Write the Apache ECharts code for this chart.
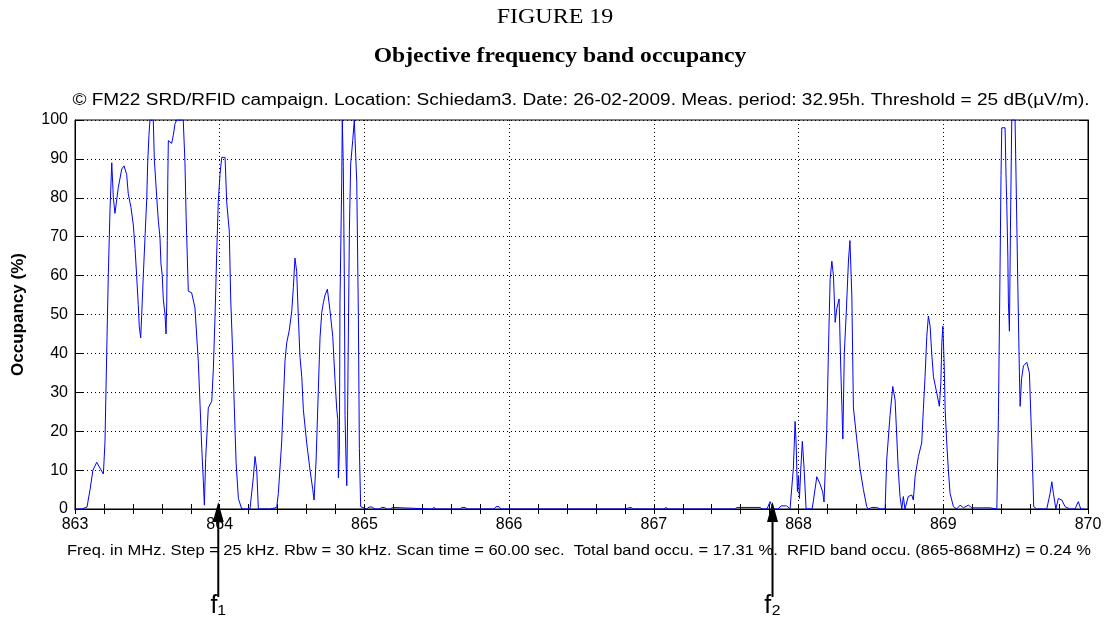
<!DOCTYPE html>
<html>
<head>
<meta charset="utf-8">
<script src="https://cdn.jsdelivr.net/npm/echarts@6/dist/echarts.min.js"></script>
<style>html,body{margin:0;padding:0;background:#fff}#c{width:1105px;height:617px}</style>
</head>
<body>
<div id="c"></div>
<script>
// ---- data ----
const figureLabel = 'FIGURE 19';
const chartTitle = 'Objective frequency band occupancy';
const subTitle = '\u00a9 FM22 SRD/RFID campaign. Location: Schiedam3. Date: 26-02-2009. Meas. period: 32.95h. Threshold = 25 dB(\u00b5V/m).';
const footNote = 'Freq. in MHz. Step = 25 kHz. Rbw = 30 kHz. Scan time = 60.00 sec.  Total band occu. = 17.31 %.  RFID band occu. (865-868MHz) = 0.24 %';
const yAxisName = 'Occupancy (%)';
const xRange = [863, 870];
const yRange = [0, 100];
const arrowFreqs = [863.99, 867.82];
const arrowLabels = ['f\u2081', 'f\u2082'];

const freqs = [
863.000,863.048,863.059,863.083,863.104,863.124,863.150,863.173,863.196,863.207,
863.219,863.230,863.242,863.254,863.265,863.276,863.299,863.323,863.339,863.357,
863.368,863.387,863.403,863.415,863.426,863.437,863.444,863.454,863.461,863.472,
863.484,863.496,863.502,863.511,863.518,863.541,863.548,863.565,863.576,863.587,
863.594,863.603,863.610,863.622,863.629,863.634,863.638,863.641,863.645,863.668,
863.679,863.691,863.703,863.748,863.760,863.768,863.783,863.806,863.829,863.852,
863.864,863.876,863.887,863.894,863.903,863.914,863.921,863.945,863.956,863.968,
863.979,863.990,864.002,864.014,864.037,864.048,864.066,864.076,864.090,864.101,
864.113,864.129,864.152,864.209,864.232,864.244,864.256,864.267,864.348,864.355,
864.394,864.405,864.428,864.440,864.451,864.463,864.481,864.498,864.509,864.520,
864.532,864.543,864.555,864.567,864.578,864.601,864.624,864.643,864.652,864.666,
864.681,864.693,864.705,864.716,864.728,864.744,864.762,864.781,864.797,864.809,
864.816,864.820,864.827,864.831,864.843,864.847,864.854,864.861,864.866,864.873,
864.878,864.882,864.889,864.896,864.905,864.919,864.930,864.940,864.947,864.958,
864.965,864.974,865.016,865.032,865.053,865.073,865.104,865.118,865.139,865.153,
865.180,865.194,865.207,865.467,865.481,865.495,865.661,865.675,865.695,865.709,
865.896,865.909,865.930,865.944,866.794,866.807,866.842,866.856,867.070,867.084,
867.098,867.561,867.575,867.734,867.748,867.782,867.803,867.824,867.858,867.879,
867.918,867.941,867.953,867.964,867.976,867.983,867.992,867.999,868.006,868.015,
868.026,868.038,868.052,868.093,868.102,868.126,868.149,868.167,868.176,868.195,
868.206,868.218,868.230,868.241,868.253,868.264,868.280,868.291,868.306,868.316,
868.329,868.345,868.355,868.368,868.379,868.402,868.425,868.448,868.471,868.482,
868.506,868.540,868.563,868.598,868.609,868.632,868.651,868.667,868.678,868.689,
868.701,868.713,868.724,868.735,868.758,868.782,868.793,868.805,868.828,868.851,
868.862,868.874,868.886,868.897,868.909,868.920,868.932,868.955,868.973,868.983,
868.990,868.997,869.006,869.013,869.024,869.035,869.047,869.070,869.093,869.116,
869.139,869.174,869.197,869.232,869.323,869.370,869.381,869.392,869.399,869.404,
869.427,869.434,869.439,869.446,869.450,869.457,869.464,869.473,869.496,869.503,
869.514,869.521,869.526,869.531,869.541,869.554,869.577,869.595,869.612,869.619,
869.625,869.646,869.715,869.738,869.750,869.761,869.778,869.795,869.819,869.842,
869.876,869.910,869.933,869.950,869.975
];
const occupancy = [
0,0,0.5,0.5,5,10,12,10.5,9,17,
40,60,77,89,80,76,82.6,87.4,88.2,86,
81,77.5,73,67,60,52.6,47,44,50,60,
70,80,88.7,96,100,100,90,80,74,70,
63,60,54,50,45,53,69,84,94.7,94,
96,99,100,100,89,75,56,55.6,51.7,38,
26.8,15.6,7,1,13,20.8,26,27.7,36,50,
65.5,79,86,90.4,90.4,79,71.5,54,39.7,26,
12,2.7,0,0,8,13.5,10,0,0,0.4,
0.4,4,17,28,38,42.7,46,51,57,64.5,
61,49.6,39,34,25.5,17,10,5,2.3,12.6,
30,44,50.5,53,55,56.5,51,44.4,33,25.5,
23,8,15,53,84,100,88,60,24,12,
6,18,45,71.5,88.7,94.7,100,100,84,50,
15.6,0.6,0,0.5,0.5,0,0,0.4,0.4,0,
0,0.4,0,0,0.4,0,0,0.4,0.4,0,
0,0.6,0.6,0,0,0.4,0.4,0,0,0.4,
0,0,0.4,0.4,0,0,1.9,0,0,0.8,
0.8,0,0,10.5,22.5,17,4.5,8.6,2.7,10,
17.4,10.5,0,0,2,8.3,6.4,4.3,1.8,20.5,
40,59,63.7,60,48,51.5,54,37,18,40,
50,64,69,55,26,18,10.3,5,0.6,0,
0.4,0.4,0,0,12.6,24,31.5,28,19,10,
3.2,0,3.2,0,3.2,3.6,2.3,8.3,13.5,17,
25.5,34,44.4,49.6,47,40,34,29.8,26.4,32.4,
42.7,47,37.5,25.5,17,10,4,0.6,0,1,
0.3,1,0.3,0.3,0.3,0,24,61,85.7,98,
98,85,78,65,53,45.7,71.5,100,100,85,
60,45,35,26.4,33.5,36.8,37.7,35,16.5,8,
0.6,0,0,4,7,4,0,2.7,2.3,0.6,
0,0,1.9,0,0
];

// ---- chart ----
const sans = 'Arial, "Liberation Sans", sans-serif';
const serif = '"Times New Roman", "Liberation Serif", serif';
const chart = echarts.init(document.getElementById('c'), null, {renderer: 'canvas'});
const seriesData = freqs.map((f, i) => [f, occupancy[i]]);

const tickCommon = {show: true, inside: true, lineStyle: {color: '#000', width: 1}};
const axisLineCommon = {show: true, lineStyle: {color: '#000', width: 1}};
const dotted = {show: true, lineStyle: {color: '#000', type: [1, 3], width: 1}};

chart.setOption({
  animation: false,
  backgroundColor: '#fff',
  grid: {left: 75, right: 17, top: 120, bottom: 108, show: true, borderColor: '#000', borderWidth: 1, backgroundColor: '#fff'},
  xAxis: [
    {type: 'value', min: xRange[0], max: xRange[1], interval: 1,
     axisLine: axisLineCommon,
     axisTick: Object.assign({length: 5}, tickCommon),
     minorTick: {show: true, splitNumber: 5, length: 5, lineStyle: {color: '#000', width: 1}},
     axisLabel: {color: '#000', fontSize: 16, fontFamily: sans, margin: 8},
     splitLine: dotted},
    {type: 'value', position: 'top', min: xRange[0], max: xRange[1], interval: 1,
     axisLine: axisLineCommon,
     axisTick: Object.assign({length: 5}, tickCommon),
     minorTick: {show: true, splitNumber: 5, length: 5, lineStyle: {color: '#000', width: 1}},
     axisLabel: {show: false}, splitLine: {show: false}}
  ],
  yAxis: [
    {type: 'value', min: yRange[0], max: yRange[1], interval: 10,
     axisLine: axisLineCommon,
     axisTick: Object.assign({length: 9}, tickCommon),
     axisLabel: {color: '#000', fontSize: 16, fontFamily: sans, margin: 7},
     splitLine: dotted,
     name: yAxisName, nameLocation: 'middle', nameGap: 48, nameRotate: 90,
     nameTextStyle: {color: '#000', fontSize: 17, fontWeight: 'bold', fontFamily: sans}},
    {type: 'value', position: 'right', min: yRange[0], max: yRange[1], interval: 10,
     axisLine: axisLineCommon,
     axisTick: Object.assign({length: 9}, tickCommon),
     axisLabel: {show: false}, splitLine: {show: false}}
  ],
  series: [{
    type: 'line', data: seriesData, xAxisIndex: 0, yAxisIndex: 0,
    showSymbol: false, symbol: 'none', clip: true,
    lineStyle: {color: '#0000ff', width: 1}, itemStyle: {color: '#0000ff'}
  }]
});

const graphics = [
  {type: 'text', x: 555, y: 18, scaleX: 1.2, z: 10,
   style: {text: figureLabel, fontSize: 20, fontFamily: serif, fill: '#000', align: 'center', verticalAlign: 'middle'}},
  {type: 'text', x: 560, y: 57, scaleX: 1.18, z: 10,
   style: {text: chartTitle, fontSize: 20, fontWeight: 'bold', fontFamily: serif, fill: '#000', align: 'center', verticalAlign: 'middle'}},
  {type: 'text', x: 581, y: 101, scaleX: 1.19, z: 10,
   style: {text: subTitle, fontSize: 16, fontFamily: sans, fill: '#000', align: 'center', verticalAlign: 'middle'}},
  {type: 'text', x: 579, y: 551, scaleX: 1.1, z: 10,
   style: {text: footNote, fontSize: 15, fontFamily: sans, fill: '#000', align: 'center', verticalAlign: 'middle'}}
];
arrowFreqs.forEach((f, i) => {
  const px = chart.convertToPixel({xAxisIndex: 0}, f);
  graphics.push({type: 'line', z: 20, shape: {x1: px, y1: 597, x2: px, y2: 518}, style: {stroke: '#000', lineWidth: 2}});
  graphics.push({type: 'polygon', z: 20, shape: {points: [[px, 502], [px - 5.5, 522], [px + 5.5, 522]]}, style: {fill: '#000'}});
  graphics.push({type: 'text', z: 20, x: px, y: 606,
    style: {text: arrowLabels[i], fontSize: 25, fontFamily: '"Liberation Sans", "DejaVu Sans", sans-serif', fill: '#000', align: 'center', verticalAlign: 'middle'}});
});
chart.setOption({graphic: graphics});
</script>
</body>
</html>
